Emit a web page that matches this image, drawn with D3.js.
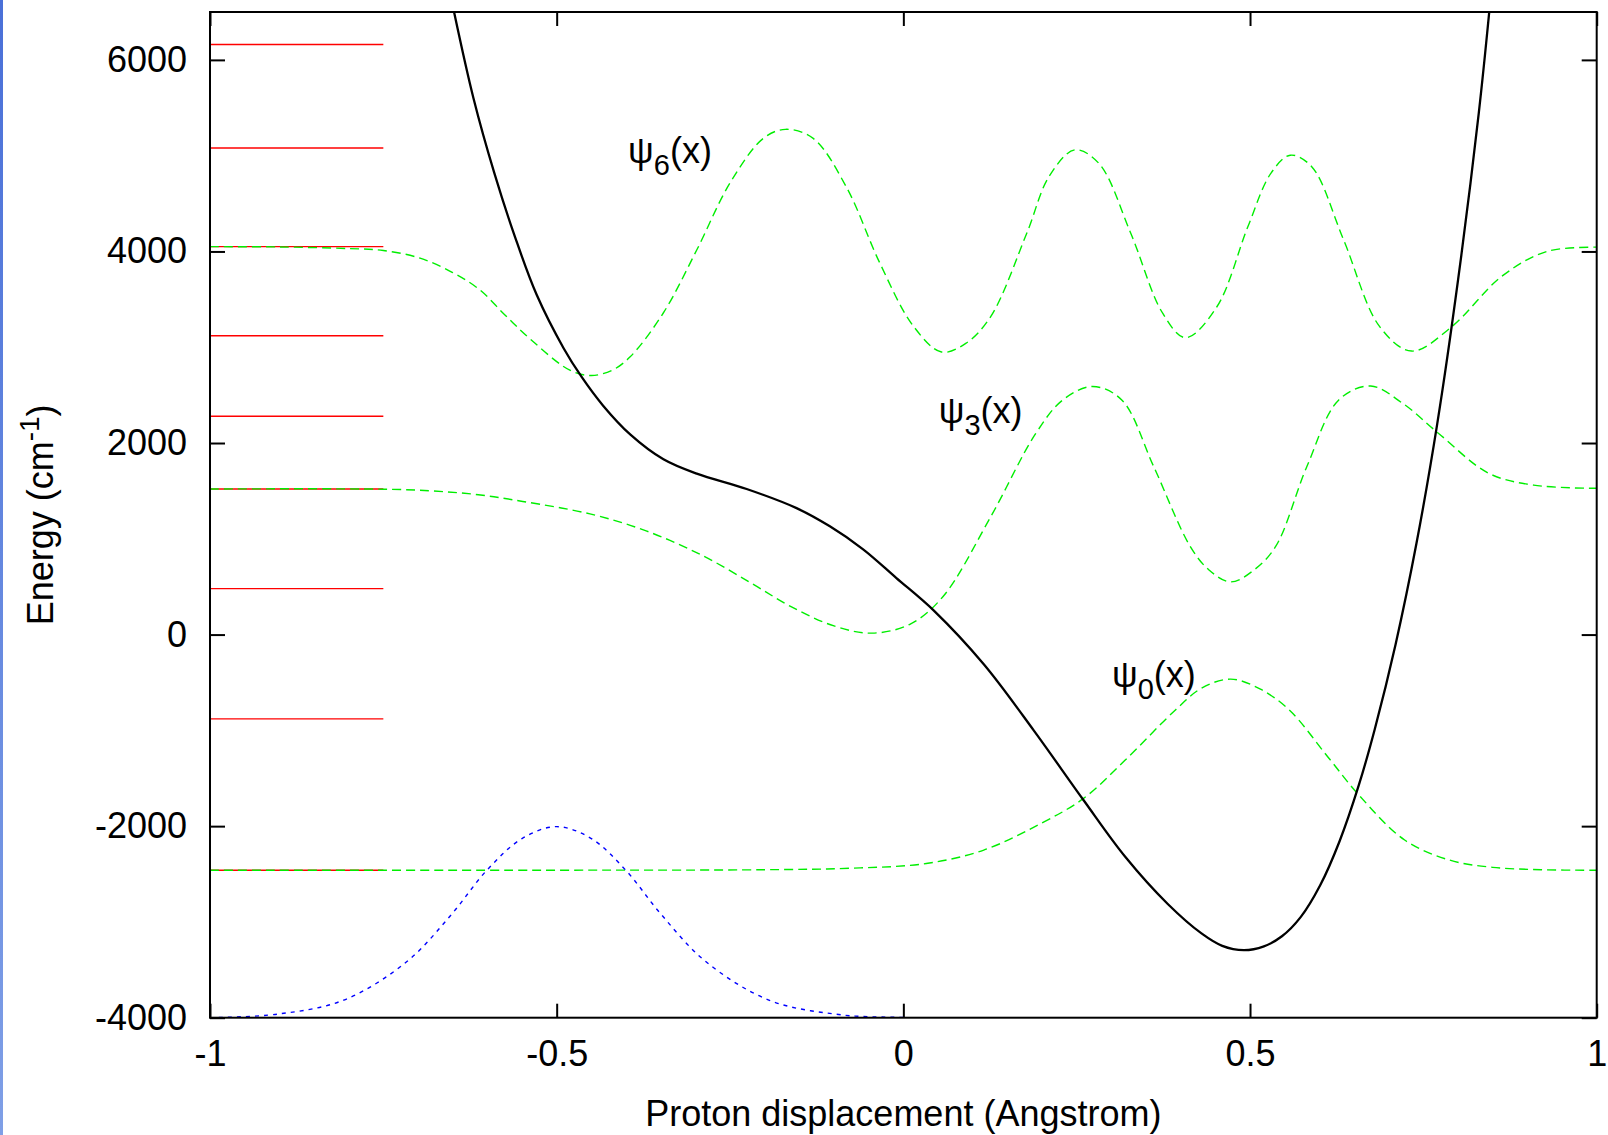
<!DOCTYPE html>
<html>
<head>
<meta charset="utf-8">
<script src="https://cdn.jsdelivr.net/npm/d3@7"></script>
<style>
  html, body { margin: 0; padding: 0; background: #fff; }
  svg { display: block; font-family: "Liberation Sans", Arial, sans-serif; }
</style>
</head>
<body>
<div id="chart"></div>
<script>
// tick values
var xTicks = [-1, -0.5, 0, 0.5, 1];
var yTicks = [-4000, -2000, 0, 2000, 4000, 6000];

// energy levels (cm-1), drawn as short red bars
var levels = [-2460, -880, 480, 1520, 2280, 3120, 4050, 5080, 6160];

// potential energy curve [x, E]
var potential = [
  [-0.648, 6500], [-0.620, 5600], [-0.590, 4820], [-0.560, 4150], [-0.529, 3550],
  [-0.490, 2990], [-0.464, 2690], [-0.433, 2390], [-0.394, 2090], [-0.346, 1830],
  [-0.298, 1680], [-0.226, 1520], [-0.154, 1320], [-0.106, 1130], [-0.058, 890],
  [-0.010, 590], [0.044, 250], [0.116, -310], [0.188, -1000], [0.260, -1730],
  [0.320, -2320], [0.381, -2810], [0.430, -3120], [0.460, -3250], [0.491, -3295],
  [0.520, -3255], [0.546, -3150], [0.573, -2950], [0.601, -2620], [0.629, -2160],
  [0.657, -1570], [0.680, -985], [0.710, -100], [0.740, 950], [0.770, 2200],
  [0.800, 3700], [0.830, 5450], [0.845, 6500]
];

// wavefunctions, offset to their energy levels
var psi0 = [
  [-1, -2460], [-0.5, -2460], [-0.2, -2455], [-0.077, -2440], [0.033, -2390],
  [0.116, -2250], [0.199, -1970], [0.26, -1710], [0.32, -1310], [0.392, -790],
  [0.43, -560], [0.472, -465], [0.515, -570], [0.557, -790], [0.612, -1275],
  [0.657, -1675], [0.723, -2145], [0.788, -2355], [0.85, -2430], [0.92, -2455], [1, -2460]
];
var psi3 = [
  [-1, 1520], [-0.75, 1518], [-0.68, 1500], [-0.613, 1460], [-0.549, 1390],
  [-0.452, 1260], [-0.37, 1080], [-0.291, 830], [-0.22, 540], [-0.162, 292],
  [-0.1, 90], [-0.045, 15], [0.01, 110], [0.057, 395], [0.126, 1230],
  [0.191, 2100], [0.23, 2450], [0.273, 2590], [0.315, 2450], [0.361, 1755],
  [0.413, 930], [0.44, 680], [0.472, 550], [0.505, 670], [0.537, 920],
  [0.582, 1755], [0.628, 2450], [0.674, 2595], [0.72, 2415], [0.772, 2100],
  [0.844, 1685], [0.909, 1560], [1, 1527]
];
var psi6 = [
  [-1, 4050], [-0.9, 4047], [-0.8, 4030], [-0.75, 4010], [-0.697, 3930],
  [-0.65, 3780], [-0.611, 3600], [-0.575, 3340], [-0.538, 3085], [-0.481, 2760],
  [-0.45, 2705], [-0.42, 2760], [-0.394, 2900], [-0.346, 3360], [-0.298, 4015],
  [-0.25, 4715], [-0.202, 5180], [-0.17, 5275], [-0.13, 5180], [-0.082, 4670],
  [-0.034, 3880], [0.014, 3225], [0.055, 2950], [0.09, 3040], [0.126, 3320],
  [0.178, 4190], [0.21, 4780], [0.247, 5060], [0.282, 4920], [0.328, 4190],
  [0.374, 3355], [0.407, 3100], [0.452, 3420], [0.497, 4260], [0.53, 4815],
  [0.558, 5005], [0.589, 4885], [0.635, 4120], [0.687, 3215], [0.733, 2960],
  [0.791, 3215], [0.863, 3740], [0.928, 4000], [1, 4045]
];
// blue gaussian sitting on the bottom axis
var gauss = [
  [-1, -4000], [-0.903, -3963], [-0.807, -3816], [-0.716, -3414], [-0.652, -2924],
  [-0.6, -2455], [-0.55, -2130], [-0.5, -2005], [-0.45, -2130], [-0.401, -2455],
  [-0.349, -2924], [-0.285, -3414], [-0.194, -3816], [-0.098, -3963], [0, -3998], [1, -4000]
];

// psi labels: [sub, x, E] (x, E at the text start / baseline)
var labels = [["6", -0.397, 4924], ["3", 0.051, 2206], ["0", 0.301, -547]];

var width = 1608, height = 1135;
var margin = {left: 210, top: 12, right: 11.3, bottom: 117.3};
var x0 = margin.left, x1 = width - margin.right;
var y0 = height - margin.bottom, y1 = margin.top;

var svg = d3.select("#chart").append("svg")
  .attr("width", width)
  .attr("height", height);

// blue strip on the left edge
var defs = svg.append("defs");
var grad = defs.append("linearGradient")
  .attr("id", "edge").attr("x1", 0).attr("y1", 0).attr("x2", 0).attr("y2", 1);
grad.append("stop").attr("offset", "0%").attr("stop-color", "#4a70d8");
grad.append("stop").attr("offset", "100%").attr("stop-color", "#7f9fe6");
svg.append("rect").attr("x", 0).attr("y", 0).attr("width", 3).attr("height", height)
  .attr("fill", "url(#edge)");

defs.append("clipPath").attr("id", "plot")
  .append("rect").attr("x", x0).attr("y", y1).attr("width", x1 - x0).attr("height", y0 - y1);

var x = d3.scaleLinear().domain([-1, 1]).range([x0, x1]);
var y = d3.scaleLinear().domain([-4000, 6500]).range([y0, y1]);

var fmt = function(d) { return String(d); };

// axes with inward ticks on all four sides
var gl = svg.append("g").attr("transform", "translate(" + x0 + ",0)")
  .call(d3.axisLeft(y).tickValues(yTicks).tickSize(-15).tickSizeOuter(0).tickPadding(23).tickFormat(fmt));
var gb = svg.append("g").attr("transform", "translate(0," + y0 + ")")
  .call(d3.axisBottom(x).tickValues(xTicks).tickSize(-14).tickSizeOuter(0).tickPadding(23).tickFormat(fmt));
var gr = svg.append("g").attr("transform", "translate(" + x1 + ",0)")
  .call(d3.axisRight(y).tickValues(yTicks).tickSize(-15).tickSizeOuter(0).tickFormat(""));
var gt = svg.append("g").attr("transform", "translate(0," + y1 + ")")
  .call(d3.axisTop(x).tickValues(xTicks).tickSize(-14).tickSizeOuter(0).tickFormat(""));

[gl, gb, gr, gt].forEach(function(g) {
  g.select(".domain").remove();
  g.selectAll("line").attr("stroke", "#000").attr("stroke-width", 2);
  g.selectAll("text").attr("fill", "#000").style("font-size", "36px")
    .style("font-family", "'Liberation Sans', Arial, sans-serif");
});

var plot = svg.append("g").attr("clip-path", "url(#plot)");

// red level bars
plot.selectAll(".level")
  .data(levels)
  .enter()
  .append("line")
  .attr("class", "level")
  .attr("x1", x(-1)).attr("x2", x(-0.75))
  .attr("y1", function(d) { return y(d); })
  .attr("y2", function(d) { return y(d); })
  .attr("stroke", "#ff0000")
  .attr("stroke-width", 1.4);

var line = d3.line()
  .x(function(d) { return x(d[0]); })
  .y(function(d) { return y(d[1]); })
  .curve(d3.curveCatmullRom.alpha(0.5));

[psi0, psi3, psi6].forEach(function(p) {
  plot.append("path")
    .attr("d", line(p))
    .attr("fill", "none")
    .attr("stroke", "#00ee00")
    .attr("stroke-width", 1.4)
    .attr("stroke-dasharray", "9,5");
});

plot.append("path")
  .attr("d", line(gauss))
  .attr("fill", "none")
  .attr("stroke", "#0000ff")
  .attr("stroke-width", 1.4)
  .attr("stroke-dasharray", "4,5");

plot.append("path")
  .attr("d", line(potential))
  .attr("fill", "none")
  .attr("stroke", "#000")
  .attr("stroke-width", 2.3);

// frame
svg.append("rect")
  .attr("x", x0).attr("y", y1)
  .attr("width", x1 - x0).attr("height", y0 - y1)
  .attr("fill", "none")
  .attr("stroke", "#000")
  .attr("stroke-width", 2);

// psi labels
labels.forEach(function(l) {
  var t = svg.append("text")
    .attr("x", x(l[1])).attr("y", y(l[2]))
    .style("font-size", "36px")
    .attr("fill", "#000");
  t.append("tspan").text("\u03c8");
  t.append("tspan").attr("dy", 12).style("font-size", "29px").text(l[0]);
  t.append("tspan").attr("dy", -12).text("(x)");
});

// axis titles
svg.append("text")
  .attr("x", (x0 + x1) / 2).attr("y", 1126)
  .attr("text-anchor", "middle")
  .style("font-size", "36px")
  .text("Proton displacement (Angstrom)");

var yl = svg.append("text")
  .attr("transform", "translate(53," + ((y0 + y1) / 2) + ") rotate(-90)")
  .attr("text-anchor", "middle")
  .style("font-size", "36px");
yl.append("tspan").text("Energy (cm");
yl.append("tspan").attr("dy", -14).style("font-size", "28px").text("-1");
yl.append("tspan").attr("dy", 14).text(")");
</script>
</body>
</html>
